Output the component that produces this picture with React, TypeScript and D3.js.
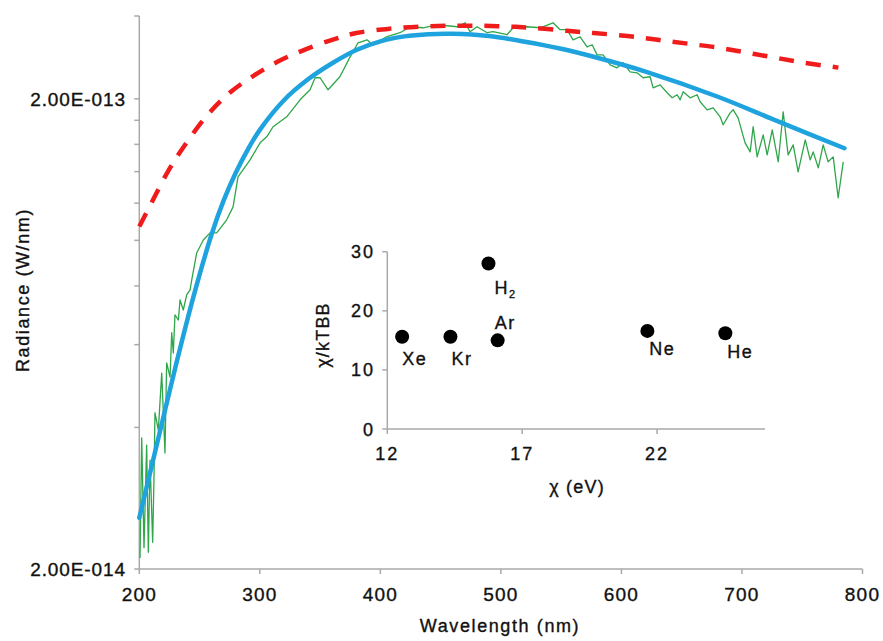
import React from "react";
import * as d3 from "d3";

// Radiance values are in units of 1e-13 W/nm
const UNIT = 1e-13;

const fitCurve: [number, number][] = [
  [200, 0.257], [210, 0.329], [220, 0.421], [230, 0.538], [245, 0.76], [260, 1.03],
  [270, 1.216], [280, 1.393], [290, 1.56], [300, 1.718], [320, 1.986], [340, 2.2],
  [360, 2.38], [380, 2.54], [400, 2.65], [420, 2.715], [440, 2.745], [460, 2.75],
  [490, 2.72], [520, 2.645], [550, 2.555], [580, 2.445], [620, 2.285], [680, 2.02],
  [730, 1.79], [785, 1.57],
];

const dashedCurve: [number, number][] = [
  [200, 1.07], [210, 1.2], [223, 1.39], [236, 1.57], [256, 1.84], [275, 2.06],
  [295, 2.24], [315, 2.4], [335, 2.53], [360, 2.67], [380, 2.76], [408, 2.82],
  [435, 2.85], [460, 2.86], [483, 2.86], [505, 2.85], [527, 2.83], [555, 2.79],
  [577, 2.76], [605, 2.72], [630, 2.67], [655, 2.62], [680, 2.57], [703, 2.51],
  [726, 2.45], [750, 2.39], [780, 2.33],
];

const measured: [number, number][] = [
  [200.6, 0.211], [202, 0.38], [203.9, 0.222], [206.1, 0.367], [207.5, 0.217], [208.9, 0.341],
  [211.1, 0.228], [212.2, 0.314], [213, 0.43], [215.8, 0.395], [218.6, 0.522], [221.3, 0.353],
  [222.7, 0.549], [225.5, 0.512], [226.9, 0.636], [228.2, 0.576], [229.6, 0.694], [232.4, 0.677],
  [233.8, 0.747], [236.5, 0.711], [239.3, 0.766], [242.1, 0.785], [243.5, 0.824], [247.6, 0.94],
  [253.1, 1.002], [258.7, 1.037], [264.2, 1.037], [272.5, 1.106], [277.8, 1.178], [281.9, 1.365],
  [291.9, 1.483], [300.2, 1.612], [305.7, 1.66], [311, 1.744], [322.3, 1.831], [333.4, 1.99],
  [341.7, 2.09], [345.8, 2.217], [350, 2.217], [356.6, 2.09], [366.4, 2.228], [374.9, 2.456],
  [381.5, 2.631], [389, 2.67], [393.9, 2.6], [405, 2.71], [416.3, 2.764], [424.7, 2.846],
  [435.4, 2.832], [447.1, 2.874], [463.7, 2.846], [470.3, 2.902], [474.4, 2.778], [480.2, 2.846],
  [488.6, 2.764], [493.5, 2.778], [505.1, 2.737], [510.1, 2.832], [521.7, 2.846], [532.5, 2.832],
  [543.3, 2.902], [549.1, 2.805], [554.9, 2.805], [559.9, 2.67], [565.7, 2.71], [571.5, 2.58],
  [575.7, 2.606], [579.8, 2.48], [584.8, 2.48], [590.6, 2.362], [596.4, 2.328], [601.4, 2.386],
  [607.2, 2.282], [613, 2.271], [618, 2.217], [623.8, 2.228], [626.3, 2.11], [632.1, 2.141],
  [637.9, 2.06], [642.1, 2.01], [646.2, 2.04], [648.7, 1.99], [651.2, 2.07], [657, 2.01],
  [662.8, 2.04], [665.3, 1.971], [671.1, 1.895], [676.1, 1.914], [681.9, 1.831], [684.4, 1.761],
  [690.2, 1.867], [692.7, 1.895], [696.8, 1.822], [702.6, 1.612], [706.8, 1.542], [709.3, 1.744],
  [712.6, 1.505], [717.6, 1.676], [720.9, 1.52], [725.1, 1.718], [730.1, 1.469], [734.2, 1.876],
  [738.3, 1.52], [742.5, 1.596], [746.6, 1.399], [752.5, 1.636], [756.6, 1.483], [759.1, 1.542],
  [763.3, 1.426], [767.4, 1.596], [771.5, 1.469], [775.7, 1.505], [779.8, 1.232], [784, 1.469],
];

const xTicks = [200, 300, 400, 500, 600, 700, 800];
const yMinorTicks = [2, 4, 6, 8, 10, 12, 14, 16, 18, 20, 30]; // in 1e-14
const yLabels: [number, string][] = [[2e-14, "2.00E-014"], [2e-13, "2.00E-013"]];

// inset data
const gases = ["Xe", "Kr", "H2", "Ar", "Ne", "He"];
const chiEv = [12.55, 14.34, 15.75, 16.09, 21.64, 24.53];
const chiOverKT = [15.6, 15.6, 28.0, 15.0, 16.6, 16.2];
const insetXTicks = [12, 17, 22];
const insetYTicks = [0, 10, 20, 30];

const labelOffset: Record<string, [number, number]> = {
  Xe: [0, 28], Kr: [1, 28], H2: [6, 30], Ar: [-3, -11], Ne: [2, 24], He: [2, 25],
};

const FONT = "'Liberation Sans', Arial, sans-serif";
const AXIS = "#a9a9a9";
const INK = "#111";
const textStyle = { stroke: INK, strokeWidth: 0.35 } as const;

export default function App() {
  const x = d3.scaleLinear().domain([200, 800]).range([139.3, 862.5]);
  const y = d3.scaleLog().domain([2e-14, 3e-13]).range([569, 16]);

  const line = d3
    .line<[number, number]>()
    .x((d) => x(d[0]))
    .y((d) => y(d[1] * UNIT));
  const smooth = d3
    .line<[number, number]>()
    .x((d) => x(d[0]))
    .y((d) => y(d[1] * UNIT))
    .curve(d3.curveCatmullRom.alpha(0.5));

  const ix = d3.scaleLinear().domain([12, 26]).range([387.3, 765]);
  const iy = d3.scaleLinear().domain([0, 30]).range([429, 251.7]);

  const x0 = x.range()[0];
  const yBottom = y.range()[0];

  return (
    <svg
      width={883}
      height={641}
      style={{ position: "absolute", left: 0, top: 0, background: "#fff" }}
      fontFamily={FONT}
    >
      <rect x={0} y={0} width={883} height={641} fill="#fff" />
      {/* main axes */}
      <line x1={x0} x2={x0} y1={y(3e-13)} y2={yBottom} stroke={AXIS} strokeWidth={1.5} />
      <line x1={x0} x2={x(800)} y1={yBottom} y2={yBottom} stroke={AXIS} strokeWidth={1.5} />
      {yMinorTicks.map((t) => (
        <line key={t} x1={x0 - 5} x2={x0} y1={y(t * 1e-14)} y2={y(t * 1e-14)} stroke={AXIS} strokeWidth={1.5} />
      ))}
      {xTicks.map((t) => (
        <g key={t}>
          <line x1={x(t)} x2={x(t)} y1={yBottom} y2={yBottom + 5} stroke={AXIS} strokeWidth={1.5} />
          <text x={x(t)} y={601} textAnchor="middle" fontSize={19} letterSpacing={1.2} fill={INK} style={textStyle}>
            {t}
          </text>
        </g>
      ))}
      {yLabels.map(([v, s]) => (
        <text key={s} x={126} y={y(v) + 7} textAnchor="end" fontSize={19} letterSpacing={0.9} fill={INK} style={textStyle}>
          {s}
        </text>
      ))}
      <text
        transform={`translate(29,290) rotate(-90)`}
        textAnchor="middle"
        fontSize={18}
        letterSpacing={1.6}
        fill={INK}
        style={textStyle}
      >
        Radiance (W/nm)
      </text>
      <text x={500} y={632} textAnchor="middle" fontSize={18} letterSpacing={1.6} fill={INK} style={textStyle}>
        Wavelength (nm)
      </text>

      {/* curves */}
      <path d={line(measured) || ""} fill="none" stroke="#2fa64a" strokeWidth={1.3} strokeLinejoin="round" />
      <path
        d={smooth(dashedCurve) || ""}
        fill="none"
        stroke="#f01c1c"
        strokeWidth={4.5}
        strokeDasharray="15 12"
      />
      <path d={smooth(fitCurve) || ""} fill="none" stroke="#1ea3df" strokeWidth={4.5} strokeLinecap="round" />

      {/* inset */}
      <line x1={ix(12)} x2={ix(12)} y1={iy(30)} y2={iy(0)} stroke={AXIS} strokeWidth={1.5} />
      <line x1={ix(12)} x2={ix(26)} y1={iy(0)} y2={iy(0)} stroke={AXIS} strokeWidth={1.5} />
      {insetYTicks.map((t) => (
        <g key={t}>
          <line x1={ix(12) - 5} x2={ix(12)} y1={iy(t)} y2={iy(t)} stroke={AXIS} strokeWidth={1.5} />
          <text x={375} y={iy(t) + 6.5} textAnchor="end" fontSize={18} letterSpacing={2} fill={INK} style={textStyle}>
            {t}
          </text>
        </g>
      ))}
      {insetXTicks.map((t) => (
        <g key={t}>
          <line x1={ix(t)} x2={ix(t)} y1={iy(0)} y2={iy(0) + 5} stroke={AXIS} strokeWidth={1.5} />
          <text x={ix(t)} y={460} textAnchor="middle" fontSize={18} letterSpacing={2} fill={INK} style={textStyle}>
            {t}
          </text>
        </g>
      ))}
      <text
        transform={`translate(329,335) rotate(-90)`}
        textAnchor="middle"
        fontSize={18}
        letterSpacing={1.2}
        fill={INK}
        style={textStyle}
      >
        χ/kTBB
      </text>
      <text x={577} y={493} textAnchor="middle" fontSize={18} letterSpacing={1.2} fill={INK} style={textStyle}>
        χ (eV)
      </text>
      {gases.map((g, i) => {
        const cx = ix(chiEv[i]);
        const cy = iy(chiOverKT[i]);
        const [dx, dy] = labelOffset[g];
        return (
          <g key={g}>
            <circle cx={cx} cy={cy} r={7} fill="#000" />
            <text x={cx + dx} y={cy + dy} fontSize={18} letterSpacing={1.5} fill={INK} style={textStyle}>
              {g === "H2" ? (
                <>
                  H
                  <tspan fontSize={11} dy={4}>
                    2
                  </tspan>
                </>
              ) : (
                g
              )}
            </text>
          </g>
        );
      })}
    </svg>
  );
}
